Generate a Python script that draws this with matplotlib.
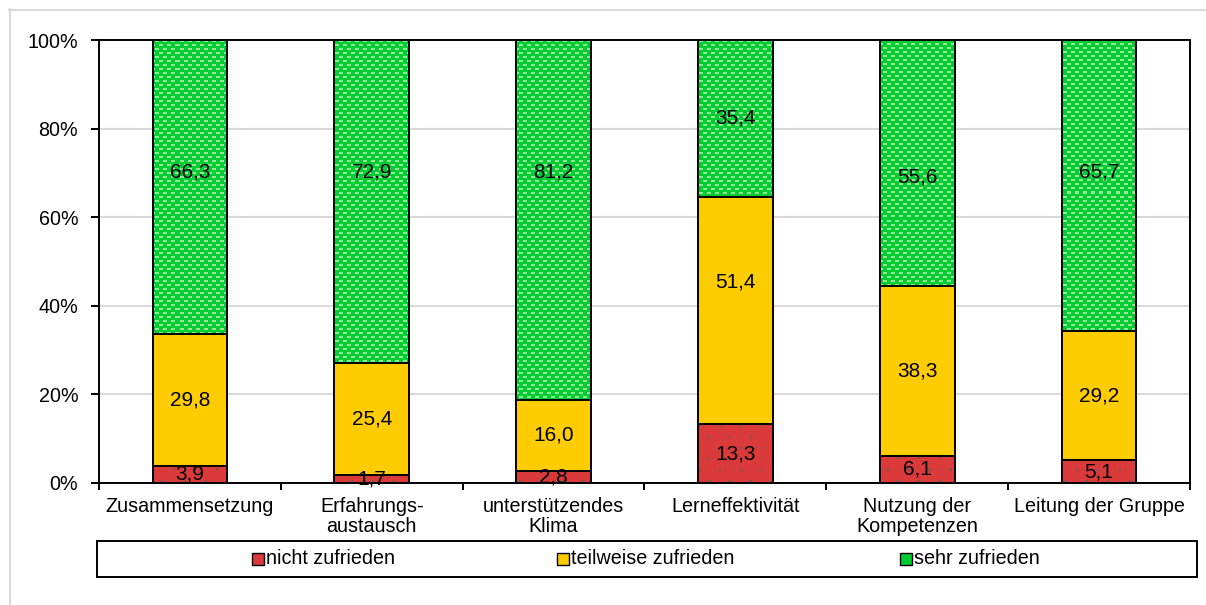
import numpy as np
import matplotlib
matplotlib.use("Agg")
import matplotlib.pyplot as plt
from matplotlib.patches import Rectangle
from matplotlib.lines import Line2D

plt.rcParams["font.family"] = ["Liberation Sans", "DejaVu Sans"]

# ---- data -------------------------------------------------------------
categories = [
    "Zusammensetzung",
    "Erfahrungs-\naustausch",
    "unterstützendes\nKlima",
    "Lerneffektivität",
    "Nutzung der\nKompetenzen",
    "Leitung der Gruppe",
]
nicht_zufrieden = [3.9, 1.7, 2.8, 13.3, 6.1, 5.1]
teilweise_zufrieden = [29.8, 25.4, 16.0, 51.4, 38.3, 29.2]
sehr_zufrieden = [66.3, 72.9, 81.2, 35.4, 55.6, 65.7]
series_names = ["nicht zufrieden", "teilweise zufrieden", "sehr zufrieden"]
y_ticks = [0, 20, 40, 60, 80, 100]

# hand-placed label heights (percent of axis); None = centre of segment
label_y = [
    [None] * 6,
    [None, None, None, 45.4, None, None],
    [70.2, 70.2, 70.2, None, 69.1, 70.2],
]

# ---- style ------------------------------------------------------------
RED = (218 / 255, 58 / 255, 58 / 255)
YELLOW = (255 / 255, 204 / 255, 0 / 255)
GREEN = (0 / 255, 204 / 255, 51 / 255)
GRID = (0.85, 0.85, 0.85)
FS = 14.2
FS_VAL = 15
W_PX, H_PX = 1206, 605

fig = plt.figure(figsize=(W_PX / 100, H_PX / 100), dpi=100)
fig.patch.set_facecolor("white")


def fx(px):
    return px / W_PX


def fy(py):
    return 1 - py / H_PX


# outer chart-area frame (top and left edges visible)
fig.add_artist(Line2D([fx(9), 1.0], [fy(9.5), fy(9.5)], color=GRID, lw=1.5,
                      transform=fig.transFigure))
fig.add_artist(Line2D([fx(9.5), fx(9.5)], [fy(9), 0.0], color=GRID, lw=1.5,
                      transform=fig.transFigure))

left, right, top, bottom = 99, 1190, 40, 483
ax = fig.add_axes([fx(left), fy(bottom), fx(right - left), (bottom - top) / H_PX])

n = len(categories)
x = np.arange(n)
vals = np.array([nicht_zufrieden, teilweise_zufrieden, sehr_zufrieden], dtype=float)
shares = vals / vals.sum(axis=0) * 100  # 100 % stacked
bar_w = 0.41

# textures in device pixels covering the plot area
pw, ph = right - left, bottom - top
yy, xx = np.mgrid[0:ph, 0:pw]

green_tex = np.empty((ph, pw, 3))
green_tex[:] = GREEN
dash_row = (yy % 4) < 2
shift = np.where((yy // 4) % 2 == 0, 0, 4)
dash_col = ((xx + shift) % 8) < 4
green_tex[dash_row & dash_col] = (150 / 255, 232 / 255, 150 / 255)

red_tex = np.empty((ph, pw, 3))
red_tex[:] = RED
dots = (((xx % 21) < 2) & ((yy % 22) < 2)) | ((((xx + 10) % 21) < 2) & (((yy + 11) % 22) < 2))
red_tex[dots] = (0.42, 0.36, 0.36)

colors = [RED, YELLOW, GREEN]
textures = [red_tex, None, green_tex]
base = np.zeros(n)
for s in range(3):
    bars = ax.bar(x, shares[s], bar_w, bottom=base, color=colors[s],
                  edgecolor="none", zorder=2)
    if textures[s] is not None:
        for b in bars:
            im = ax.imshow(textures[s], extent=(-0.5, n - 0.5, 0, 100),
                           aspect="auto", interpolation="nearest", zorder=2.2)
            im.set_clip_path(b)
    ax.bar(x, shares[s], bar_w, bottom=base, fill=False, edgecolor="black",
           linewidth=1.4, zorder=3)
    for i in range(n):
        yl = label_y[s][i]
        if yl is None:
            yl = base[i] + shares[s][i] / 2
        ax.text(x[i], yl, f"{vals[s][i]:.1f}".replace(".", ","),
                ha="center", va="center", fontsize=FS_VAL, color="black", zorder=4)
    base = base + shares[s]

ax.set_xlim(-0.5, n - 0.5)
ax.set_ylim(0, 100)
ax.set_yticks(y_ticks)
ax.set_yticklabels([f"{t}%" for t in y_ticks], fontsize=FS)
ax.tick_params(axis="y", direction="out", length=6, width=1.4, pad=9)

# category boundaries carry tick marks, centres carry the labels
ax.set_xticks(np.arange(n + 1) - 0.5)
ax.set_xticklabels([])
ax.tick_params(axis="x", which="major", direction="out", length=5, width=1.4)
ax.set_xticks(x, minor=True)
ax.set_xticklabels(categories, minor=True, fontsize=FS, linespacing=1.05)
ax.tick_params(axis="x", which="minor", length=0, pad=10)

ax.yaxis.grid(True, color=GRID, linewidth=1.5)
ax.set_axisbelow(True)
for sp in ax.spines.values():
    sp.set_color("black")
    sp.set_linewidth(1.4)

# legend
box_top, box_bot = 541, 577
fig.add_artist(Rectangle((fx(97), fy(box_bot)), fx(1197) - fx(97), fy(box_top) - fy(box_bot),
                         transform=fig.transFigure, facecolor="white",
                         edgecolor="black", linewidth=1.4))
legend_x = [252, 557, 900]
ly = (box_top + box_bot) / 2
for name, col, lx in zip(series_names, colors, legend_x):
    fig.add_artist(Rectangle((fx(lx), fy(ly + 6)), fx(12), 12 / H_PX,
                             transform=fig.transFigure, facecolor=col,
                             edgecolor="black", linewidth=1.0))
    fig.text(fx(lx + 14), fy(ly), name, fontsize=FS, ha="left", va="center")

fig.savefig("out.png", dpi=100, facecolor="white")
